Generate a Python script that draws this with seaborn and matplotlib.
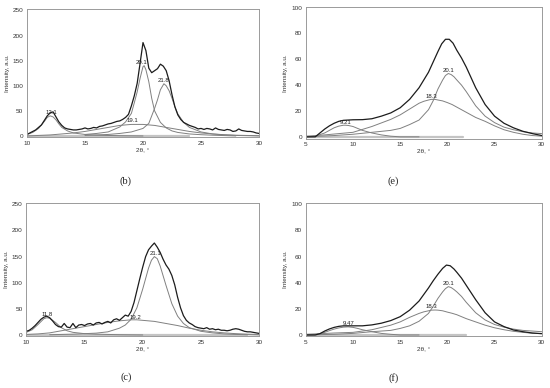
import numpy as np
import seaborn as sns
import matplotlib
matplotlib.use('Agg')
import matplotlib.pyplot as plt

# %% data
# (b) experimental pattern, 2theta 10..30 step 0.25
b_theta = np.arange(10, 30.01, 0.25)
b_exp = [3, 6, 9, 12, 17, 22, 31, 40,
         46, 48, 38, 28, 21, 16, 14, 13,
         12, 12, 13, 14, 16, 14, 15, 17,
         16, 19, 20, 22, 24, 25, 27, 29,
         30, 33, 37, 43, 60, 80, 105, 145,
         186, 170, 135, 126, 130, 134, 143, 139,
         130, 110, 82, 58, 42, 33, 27, 24,
         21, 19, 17, 14, 15, 13, 15, 14,
         12, 16, 13, 12, 11, 13, 12, 9,
         10, 14, 11, 10, 9, 9, 8, 6,
         5]
b_p121_x = [10, 10.5, 11, 11.5, 11.75, 12, 12.25, 12.5, 12.75, 13, 13.5, 14, 15, 16, 18, 20]
b_p121_y = [3, 7, 15, 29, 37, 40, 38, 32, 24, 17, 10, 6, 3, 1.5, 0.5, 0]
b_p191_x = [10, 12, 14, 15, 16, 17, 18, 19, 20, 21, 22, 23, 24, 25, 26, 27, 28, 30]
b_p191_y = [0, 2, 6, 9, 13, 17, 21, 23, 23, 21, 17, 13, 9, 6, 4, 2.5, 1.5, 0.5]
b_p201_x = [15, 16, 17, 18, 18.5, 19, 19.25, 19.5, 19.75, 20, 20.1, 20.25, 20.5, 20.75,
            21, 21.5, 22, 22.5, 23, 24, 25, 26, 28]
b_p201_y = [3, 5, 8, 18, 28, 45, 66, 88, 115, 138, 140, 132, 108, 75,
            50, 27, 16, 10, 7, 4, 2.5, 1.5, 0]
b_p218_x = [15, 17, 18, 19, 20, 20.5, 20.75, 21, 21.25, 21.5, 21.8, 22, 22.25, 22.5,
            22.75, 23, 23.5, 24, 25, 26, 27, 28, 30]
b_p218_y = [1, 3, 5, 8, 15, 25, 40, 55, 72, 92, 104, 100, 90, 75,
            58, 44, 27, 17, 8, 4, 2, 1, 0]
b_base_x = [10, 24]
b_base_y = [0, 0]

# (c)
c_theta = np.arange(10, 30.01, 0.25)
c_exp = [7, 9, 13, 18, 24, 30, 34, 36,
         33, 27, 20, 16, 15, 22, 15, 14,
         22, 14, 19, 20, 18, 21, 22, 19,
         23, 24, 21, 24, 26, 23, 29, 31,
         28, 33, 38, 36, 45, 62, 85, 108,
         130, 150, 163, 170, 176, 168, 158, 145,
         134, 126, 114, 96, 72, 52, 37, 28,
         23, 20, 16, 14, 13, 12, 14, 11,
         12, 10, 11, 9, 9, 8, 9, 11,
         12, 11, 9, 7, 6, 6, 5, 4,
         3]
c_p118_x = [10, 10.5, 11, 11.5, 11.75, 12, 12.5, 13, 13.5, 14, 15, 16, 18, 20]
c_p118_y = [5, 10, 20, 31, 33, 32, 24, 14, 8, 5, 2.5, 1.5, 0.5, 0]
c_p192_x = [10, 11, 12, 13, 14, 15, 16, 17, 18, 19, 19.5, 20, 21, 22, 23, 24, 25, 26, 27, 28, 29, 30]
c_p192_y = [1, 2, 4, 8, 12, 16, 20, 24, 27, 29, 29, 28, 26, 22, 18, 13, 9, 6, 4, 2.5, 1.5, 1]
c_p211_x = [12, 14, 16, 17, 18, 18.5, 19, 19.5, 20, 20.5, 20.75, 21, 21.25, 21.5, 22, 22.5,
            23, 23.5, 24, 25, 26, 27, 28, 30]
c_p211_y = [0.5, 1.5, 3.5, 6, 13, 19, 30, 52, 88, 128, 143, 150, 146, 132, 95, 60,
            36, 22, 14, 7, 4, 2, 1, 0]
c_base_x = [10, 29]
c_base_y = [0, 0]

# (e)
e_x = [5, 6, 6.5, 7, 7.5, 8, 8.5, 9, 10, 11, 12, 13, 14, 15, 16, 17, 18, 18.5, 19, 19.4,
       19.8, 20.2, 20.6, 21, 21.5, 22, 23, 24, 25, 26, 27, 28, 29, 30]
e_total = [0, 0, 3, 6, 8.5, 10.5, 12, 12.8, 13.2, 13.3, 14, 16, 18.5, 22.5, 29, 38, 50, 58, 66, 72,
           75.5, 75.5, 72.5, 67, 61, 54, 38, 25, 16, 10.5, 7, 4.3, 2.5, 1]
e_p921_x = [5, 6, 7, 7.5, 8, 8.5, 9, 9.2, 9.5, 10, 10.5, 11, 12, 13, 14, 15, 17]
e_p921_y = [0, 0.5, 3, 5, 7, 8.3, 9, 9, 8.8, 8, 6.5, 5, 3, 1.5, 0.5, 0, 0]
e_p183_x = [5, 7, 10, 12, 14, 15, 16, 17, 17.5, 18, 18.3, 18.7, 19, 19.5, 20, 20.5, 21, 22, 23,
            24, 25, 26, 27, 28, 29, 30]
e_p183_y = [0.5, 1.5, 3.5, 8, 13.5, 17, 21.5, 26, 27.5, 28.5, 29, 29, 28.5, 27.8, 26.5, 25, 23,
            19, 15, 12, 8.5, 5.5, 3.5, 2, 1, 0.5]
e_p201_x = [5, 8, 10, 12, 14, 15, 16, 17, 18, 18.5, 19, 19.5, 19.8, 20.1, 20.4, 20.7, 21, 21.5,
            22, 22.5, 23, 24, 25, 26, 27, 28, 29, 30]
e_p201_y = [0, 1, 2, 3.5, 5, 6.5, 9.5, 13, 21, 28, 37, 44, 47.5, 49, 48.2, 46.5, 44, 40,
            35, 29.5, 24, 16, 11, 7.5, 5.5, 4, 3, 2.5]
e_base_x = [5, 21.7]
e_base_y = [0, 0]

# (f)
f_x = [5, 6, 6.5, 7, 7.5, 8, 8.5, 9, 10, 11, 12, 13, 14, 15, 16, 17, 18, 18.5, 19, 19.5,
       19.9, 20.3, 20.7, 21, 21.5, 22, 23, 24, 25, 26, 27, 28, 29, 30]
f_total = [0, 0, 1, 3, 4.6, 5.8, 6.6, 7, 7, 7, 7.7, 9, 11, 14, 19, 26, 36, 41.5, 46.5, 51,
           53.5, 53, 50.5, 48, 43.5, 38, 27, 17, 10, 6.4, 3.8, 2.5, 1.5, 1]
f_p947_x = [5, 6, 7, 7.5, 8, 8.5, 9, 9.5, 10, 10.5, 11, 12, 13, 14, 15, 17]
f_p947_y = [0, 0.3, 2, 3.3, 4.5, 5.4, 6, 6.2, 5.8, 5, 4, 2.5, 1.2, 0.5, 0, 0]
f_p183_x = [5, 8, 10, 12, 14, 15, 16, 17, 17.5, 18, 18.3, 18.7, 19, 19.5, 20, 20.5, 21, 22,
            23, 24, 25, 26, 27, 28, 29, 30]
f_p183_y = [0.5, 1.5, 2, 4, 7.5, 10, 13.5, 16.5, 17.7, 18.5, 19, 19.1, 19, 18.5, 17.5, 16.6,
            15.5, 12.5, 10, 7.5, 5.5, 4, 2.8, 2, 1.3, 1]
f_p201_x = [5, 8, 10, 12, 14, 15, 16, 17, 18, 18.5, 19, 19.5, 19.8, 20.1, 20.4, 20.7, 21, 21.5,
            22, 22.5, 23, 24, 25, 26, 27, 28, 29, 30]
f_p201_y = [0, 0.5, 1.2, 2.5, 3.5, 5, 7, 10.5, 16.5, 22, 28, 33, 35.5, 37, 36.3, 34.8, 33, 29.5,
            25, 21, 17, 11.5, 8, 6, 4.5, 3.5, 3, 2.5]
f_base_x = [5, 22]
f_base_y = [0, 0]

# %% style
sns.set_style('white')
plt.rcParams['font.family'] = ['Liberation Sans', 'DejaVu Sans']

fig = plt.figure(figsize=(5.5, 3.88), dpi=100)
ax_b = fig.add_axes([0.049, 0.647, 0.422, 0.330])
ax_e = fig.add_axes([0.556, 0.643, 0.429, 0.339])
ax_c = fig.add_axes([0.048, 0.134, 0.423, 0.342])
ax_f = fig.add_axes([0.556, 0.134, 0.429, 0.342])


def draw_panel(ax, exp_x, exp_y, peaks, base, xlim, ylim, yticks, labels):
    sns.lineplot(x=base[0], y=base[1], ax=ax, color='#c4c4c4', lw=1.6)
    for px, py in peaks:
        sns.lineplot(x=px, y=py, ax=ax, color='#808080', lw=0.7)
    sns.lineplot(x=exp_x, y=exp_y, ax=ax, color='#1c1c1c', lw=0.9)
    for text, tx, ty in labels:
        ax.text(tx, ty, text, fontsize=4.3, ha='center', va='bottom', color='#222222')
    ax.set_xlim(*xlim)
    ax.set_ylim(*ylim)
    ax.set_xticks(np.arange(xlim[0], xlim[1] + 1, 5))
    ax.set_yticks(yticks)
    ax.tick_params(labelsize=4.6, length=1.5, width=0.4, pad=1.2, colors='#333333')
    ax.set_xlabel('2θ, °', fontsize=4.6, labelpad=1, color='#333333')
    ax.set_ylabel('Intensity, a.u.', fontsize=4.6, labelpad=2, color='#333333')
    for sp in ax.spines.values():
        sp.set_color('#9a9a9a')
        sp.set_linewidth(0.7)


draw_panel(ax_b, b_theta, b_exp,
           [(b_p121_x, b_p121_y), (b_p191_x, b_p191_y), (b_p201_x, b_p201_y), (b_p218_x, b_p218_y)],
           (b_base_x, b_base_y), (10, 30), (-2, 253), range(0, 251, 50),
           [('12.1', 12.1, 42), ('19.1', 19.1, 25), ('20.1', 19.9, 142), ('21.8', 21.8, 106)])
draw_panel(ax_e, e_x, e_total,
           [(e_p921_x, e_p921_y), (e_p183_x, e_p183_y), (e_p201_x, e_p201_y)],
           (e_base_x, e_base_y), (5, 30), (-1.3, 100.5), range(0, 101, 20),
           [('9.21', 9.2, 9.5), ('18.3', 18.3, 29.5), ('20.1', 20.1, 49.5)])
draw_panel(ax_c, c_theta, c_exp,
           [(c_p118_x, c_p118_y), (c_p192_x, c_p192_y), (c_p211_x, c_p211_y)],
           (c_base_x, c_base_y), (10, 30), (-2, 252), range(0, 251, 50),
           [('11.8', 11.8, 34), ('19.2', 19.4, 28), ('21.1', 21.1, 151)])
draw_panel(ax_f, f_x, f_total,
           [(f_p947_x, f_p947_y), (f_p183_x, f_p183_y), (f_p201_x, f_p201_y)],
           (f_base_x, f_base_y), (5, 30), (-0.8, 100.8), range(0, 101, 20),
           [('9.47', 9.5, 6.5), ('18.3', 18.3, 19.5), ('20.1', 20.1, 37.5)])

for txt, fx, fy in [('(b)', 0.229, 0.534), ('(e)', 0.715, 0.534),
                    ('(c)', 0.229, 0.027), ('(f)', 0.715, 0.027)]:
    fig.text(fx, fy, txt, fontsize=7.5, ha='center', va='center',
             family=['Liberation Serif', 'DejaVu Serif'], color='#222222')

fig.savefig('out.png', dpi=100)
